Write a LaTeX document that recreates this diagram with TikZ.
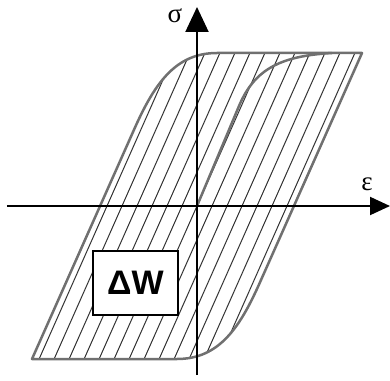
\documentclass[tikz,border=0pt]{standalone}
\usepackage{fontspec}
\setmainfont{Liberation Serif}
\newfontfamily\labsans{Liberation Sans}
\usetikzlibrary{arrows.meta}
\definecolor{loopgray}{HTML}{707070}
\definecolor{hatchgray}{HTML}{333333}
\tikzset{
  loopline/.style={draw=loopgray, line width=2.5pt, line join=round},
  hatchline/.style={draw=hatchgray, line width=1pt},
  axisline/.style={draw=black, line width=2pt},
  wbox/.style={draw=black, line width=2.5pt, fill=white, minimum width=85pt, minimum height=64pt, inner sep=0pt, font=\labsans\bfseries\fontsize{34}{36}\selectfont},
  axlabel/.style={inner sep=0pt, font=\fontsize{27}{28}\selectfont}
}
\begin{document}
\begin{tikzpicture}[x=1pt,y=1pt]
\useasboundingbox (-197,-174) rectangle (193,206);
\def\looppath{(165,153) -- (64,-74) .. controls (43,-122) and (22,-153) .. (-20,-153) -- (-165,-153) -- (-64,74) .. controls (-43,122) and (-22,153) .. (20,153) -- cycle}
% hatching
\begin{scope}
  \clip \looppath;
  \foreach \k in {-90,-75,...,90} {
    \draw[hatchline] (\k-71,-160) -- (\k+71,160);
  }
\end{scope}
% loop outline
\draw[loopline] \looppath;
% virgin curve
\coordinate (O) at (0,0);
\coordinate (V1) at (42,100);
\coordinate (V2) at (135,153);
\draw[loopline] (O) -- (V1) .. controls (58,138) and (85,150) .. (V2);
% axes
\coordinate (xL) at (-190,0);
\coordinate (xR) at (193,0);
\coordinate (yB) at (0,-169);
\coordinate (yT) at (0,199);
\draw[axisline, -{Triangle[length=20pt,width=18pt]}] (xL) -- (xR);
\draw[axisline, -{Triangle[length=25pt,width=23pt]}] (yB) -- (yT);
\node[axlabel] (sig) at (-22,190) {σ};
\node[axlabel] (eps) at (170,22) {ε};
% Delta W box
\node[wbox] (dw) at (-61.5,-77) {ΔW};
\end{tikzpicture}
\end{document}
